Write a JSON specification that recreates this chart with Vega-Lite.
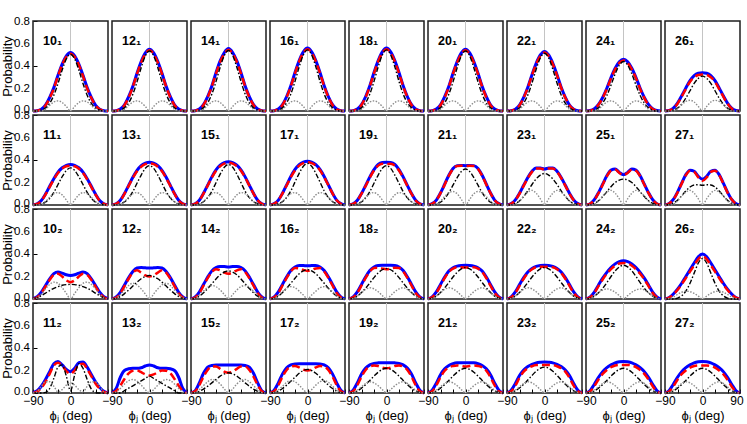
{
"$schema":"https://vega.github.io/schema/vega-lite/v6.json",
"background":"white",
"padding":{"left":1,"top":15,"right":4,"bottom":2},
"bounds":"flush",
"data":{"values":[
{"n":"10₁","x":-90,"b":0,"r":0,"k":0,"g":0},
{"n":"10₁","x":-80,"b":0.003,"r":0.003,"k":0,"g":0},
{"n":"10₁","x":-70,"b":0.016,"r":0.015,"k":0.008,"g":0},
{"n":"10₁","x":-60,"b":0.052,"r":0.05,"k":0.026,"g":0.015},
{"n":"10₁","x":-50,"b":0.12,"r":0.115,"k":0.068,"g":0.05},
{"n":"10₁","x":-40,"b":0.208,"r":0.2,"k":0.14,"g":0.08},
{"n":"10₁","x":-30,"b":0.317,"r":0.31,"k":0.244,"g":0.09},
{"n":"10₁","x":-20,"b":0.416,"r":0.41,"k":0.364,"g":0.075},
{"n":"10₁","x":-10,"b":0.49,"r":0.48,"k":0.463,"g":0.04},
{"n":"10₁","x":0,"b":0.52,"r":0.51,"k":0.505,"g":0},
{"n":"10₁","x":10,"b":0.49,"r":0.48,"k":0.463,"g":0.04},
{"n":"10₁","x":20,"b":0.416,"r":0.41,"k":0.364,"g":0.075},
{"n":"10₁","x":30,"b":0.317,"r":0.31,"k":0.244,"g":0.09},
{"n":"10₁","x":40,"b":0.208,"r":0.2,"k":0.14,"g":0.08},
{"n":"10₁","x":50,"b":0.12,"r":0.115,"k":0.068,"g":0.05},
{"n":"10₁","x":60,"b":0.052,"r":0.05,"k":0.026,"g":0.015},
{"n":"10₁","x":70,"b":0.016,"r":0.015,"k":0.008,"g":0},
{"n":"10₁","x":80,"b":0.003,"r":0.003,"k":0,"g":0},
{"n":"10₁","x":90,"b":0,"r":0,"k":0,"g":0},
{"n":"12₁","x":-90,"b":0,"r":0,"k":0,"g":0},
{"n":"12₁","x":-80,"b":0.003,"r":0.003,"k":0,"g":0},
{"n":"12₁","x":-70,"b":0.017,"r":0.016,"k":0.008,"g":0},
{"n":"12₁","x":-60,"b":0.055,"r":0.052,"k":0.028,"g":0.015},
{"n":"12₁","x":-50,"b":0.127,"r":0.12,"k":0.072,"g":0.05},
{"n":"12₁","x":-40,"b":0.22,"r":0.215,"k":0.149,"g":0.08},
{"n":"12₁","x":-30,"b":0.336,"r":0.33,"k":0.259,"g":0.09},
{"n":"12₁","x":-20,"b":0.44,"r":0.43,"k":0.385,"g":0.075},
{"n":"12₁","x":-10,"b":0.517,"r":0.507,"k":0.49,"g":0.04},
{"n":"12₁","x":0,"b":0.55,"r":0.54,"k":0.534,"g":0},
{"n":"12₁","x":10,"b":0.517,"r":0.507,"k":0.49,"g":0.04},
{"n":"12₁","x":20,"b":0.44,"r":0.43,"k":0.385,"g":0.075},
{"n":"12₁","x":30,"b":0.336,"r":0.33,"k":0.259,"g":0.09},
{"n":"12₁","x":40,"b":0.22,"r":0.215,"k":0.149,"g":0.08},
{"n":"12₁","x":50,"b":0.127,"r":0.12,"k":0.072,"g":0.05},
{"n":"12₁","x":60,"b":0.055,"r":0.052,"k":0.028,"g":0.015},
{"n":"12₁","x":70,"b":0.017,"r":0.016,"k":0.008,"g":0},
{"n":"12₁","x":80,"b":0.003,"r":0.003,"k":0,"g":0},
{"n":"12₁","x":90,"b":0,"r":0,"k":0,"g":0},
{"n":"14₁","x":-90,"b":0,"r":0,"k":0,"g":0},
{"n":"14₁","x":-80,"b":0.003,"r":0.003,"k":0,"g":0},
{"n":"14₁","x":-70,"b":0.017,"r":0.016,"k":0.008,"g":0},
{"n":"14₁","x":-60,"b":0.056,"r":0.053,"k":0.028,"g":0.015},
{"n":"14₁","x":-50,"b":0.128,"r":0.123,"k":0.072,"g":0.05},
{"n":"14₁","x":-40,"b":0.222,"r":0.217,"k":0.15,"g":0.08},
{"n":"14₁","x":-30,"b":0.34,"r":0.333,"k":0.261,"g":0.09},
{"n":"14₁","x":-20,"b":0.445,"r":0.435,"k":0.389,"g":0.075},
{"n":"14₁","x":-10,"b":0.52,"r":0.51,"k":0.494,"g":0.04},
{"n":"14₁","x":0,"b":0.555,"r":0.545,"k":0.538,"g":0},
{"n":"14₁","x":10,"b":0.52,"r":0.51,"k":0.494,"g":0.04},
{"n":"14₁","x":20,"b":0.445,"r":0.435,"k":0.389,"g":0.075},
{"n":"14₁","x":30,"b":0.34,"r":0.333,"k":0.261,"g":0.09},
{"n":"14₁","x":40,"b":0.222,"r":0.217,"k":0.15,"g":0.08},
{"n":"14₁","x":50,"b":0.128,"r":0.123,"k":0.072,"g":0.05},
{"n":"14₁","x":60,"b":0.056,"r":0.053,"k":0.028,"g":0.015},
{"n":"14₁","x":70,"b":0.017,"r":0.016,"k":0.008,"g":0},
{"n":"14₁","x":80,"b":0.003,"r":0.003,"k":0,"g":0},
{"n":"14₁","x":90,"b":0,"r":0,"k":0,"g":0},
{"n":"16₁","x":-90,"b":0,"r":0,"k":0,"g":0},
{"n":"16₁","x":-80,"b":0.003,"r":0.003,"k":0,"g":0},
{"n":"16₁","x":-70,"b":0.017,"r":0.016,"k":0.008,"g":0},
{"n":"16₁","x":-60,"b":0.056,"r":0.054,"k":0.028,"g":0.015},
{"n":"16₁","x":-50,"b":0.129,"r":0.124,"k":0.073,"g":0.05},
{"n":"16₁","x":-40,"b":0.224,"r":0.219,"k":0.151,"g":0.08},
{"n":"16₁","x":-30,"b":0.342,"r":0.335,"k":0.263,"g":0.09},
{"n":"16₁","x":-20,"b":0.448,"r":0.44,"k":0.392,"g":0.075},
{"n":"16₁","x":-10,"b":0.526,"r":0.516,"k":0.498,"g":0.04},
{"n":"16₁","x":0,"b":0.56,"r":0.55,"k":0.543,"g":0},
{"n":"16₁","x":10,"b":0.526,"r":0.516,"k":0.498,"g":0.04},
{"n":"16₁","x":20,"b":0.448,"r":0.44,"k":0.392,"g":0.075},
{"n":"16₁","x":30,"b":0.342,"r":0.335,"k":0.263,"g":0.09},
{"n":"16₁","x":40,"b":0.224,"r":0.219,"k":0.151,"g":0.08},
{"n":"16₁","x":50,"b":0.129,"r":0.124,"k":0.073,"g":0.05},
{"n":"16₁","x":60,"b":0.056,"r":0.054,"k":0.028,"g":0.015},
{"n":"16₁","x":70,"b":0.017,"r":0.016,"k":0.008,"g":0},
{"n":"16₁","x":80,"b":0.003,"r":0.003,"k":0,"g":0},
{"n":"16₁","x":90,"b":0,"r":0,"k":0,"g":0},
{"n":"18₁","x":-90,"b":0,"r":0,"k":0,"g":0},
{"n":"18₁","x":-80,"b":0.003,"r":0.003,"k":0,"g":0},
{"n":"18₁","x":-70,"b":0.017,"r":0.016,"k":0.008,"g":0},
{"n":"18₁","x":-60,"b":0.056,"r":0.054,"k":0.028,"g":0.015},
{"n":"18₁","x":-50,"b":0.129,"r":0.124,"k":0.073,"g":0.05},
{"n":"18₁","x":-40,"b":0.224,"r":0.219,"k":0.151,"g":0.08},
{"n":"18₁","x":-30,"b":0.342,"r":0.335,"k":0.263,"g":0.09},
{"n":"18₁","x":-20,"b":0.448,"r":0.44,"k":0.392,"g":0.075},
{"n":"18₁","x":-10,"b":0.526,"r":0.516,"k":0.498,"g":0.04},
{"n":"18₁","x":0,"b":0.56,"r":0.55,"k":0.543,"g":0},
{"n":"18₁","x":10,"b":0.526,"r":0.516,"k":0.498,"g":0.04},
{"n":"18₁","x":20,"b":0.448,"r":0.44,"k":0.392,"g":0.075},
{"n":"18₁","x":30,"b":0.342,"r":0.335,"k":0.263,"g":0.09},
{"n":"18₁","x":40,"b":0.224,"r":0.219,"k":0.151,"g":0.08},
{"n":"18₁","x":50,"b":0.129,"r":0.124,"k":0.073,"g":0.05},
{"n":"18₁","x":60,"b":0.056,"r":0.054,"k":0.028,"g":0.015},
{"n":"18₁","x":70,"b":0.017,"r":0.016,"k":0.008,"g":0},
{"n":"18₁","x":80,"b":0.003,"r":0.003,"k":0,"g":0},
{"n":"18₁","x":90,"b":0,"r":0,"k":0,"g":0},
{"n":"20₁","x":-90,"b":0,"r":0,"k":0,"g":0},
{"n":"20₁","x":-80,"b":0.003,"r":0.003,"k":0,"g":0},
{"n":"20₁","x":-70,"b":0.017,"r":0.016,"k":0.008,"g":0},
{"n":"20₁","x":-60,"b":0.055,"r":0.052,"k":0.028,"g":0.015},
{"n":"20₁","x":-50,"b":0.127,"r":0.12,"k":0.072,"g":0.05},
{"n":"20₁","x":-40,"b":0.22,"r":0.215,"k":0.149,"g":0.08},
{"n":"20₁","x":-30,"b":0.336,"r":0.33,"k":0.259,"g":0.09},
{"n":"20₁","x":-20,"b":0.44,"r":0.43,"k":0.385,"g":0.075},
{"n":"20₁","x":-10,"b":0.517,"r":0.507,"k":0.49,"g":0.04},
{"n":"20₁","x":0,"b":0.55,"r":0.54,"k":0.534,"g":0},
{"n":"20₁","x":10,"b":0.517,"r":0.507,"k":0.49,"g":0.04},
{"n":"20₁","x":20,"b":0.44,"r":0.43,"k":0.385,"g":0.075},
{"n":"20₁","x":30,"b":0.336,"r":0.33,"k":0.259,"g":0.09},
{"n":"20₁","x":40,"b":0.22,"r":0.215,"k":0.149,"g":0.08},
{"n":"20₁","x":50,"b":0.127,"r":0.12,"k":0.072,"g":0.05},
{"n":"20₁","x":60,"b":0.055,"r":0.052,"k":0.028,"g":0.015},
{"n":"20₁","x":70,"b":0.017,"r":0.016,"k":0.008,"g":0},
{"n":"20₁","x":80,"b":0.003,"r":0.003,"k":0,"g":0},
{"n":"20₁","x":90,"b":0,"r":0,"k":0,"g":0},
{"n":"22₁","x":-90,"b":0,"r":0,"k":0,"g":0},
{"n":"22₁","x":-80,"b":0.003,"r":0.003,"k":0,"g":0},
{"n":"22₁","x":-70,"b":0.016,"r":0.015,"k":0.008,"g":0},
{"n":"22₁","x":-60,"b":0.053,"r":0.05,"k":0.027,"g":0.015},
{"n":"22₁","x":-50,"b":0.122,"r":0.117,"k":0.069,"g":0.05},
{"n":"22₁","x":-40,"b":0.212,"r":0.207,"k":0.143,"g":0.08},
{"n":"22₁","x":-30,"b":0.323,"r":0.317,"k":0.249,"g":0.09},
{"n":"22₁","x":-20,"b":0.424,"r":0.416,"k":0.371,"g":0.075},
{"n":"22₁","x":-10,"b":0.498,"r":0.488,"k":0.472,"g":0.04},
{"n":"22₁","x":0,"b":0.53,"r":0.52,"k":0.514,"g":0},
{"n":"22₁","x":10,"b":0.498,"r":0.488,"k":0.472,"g":0.04},
{"n":"22₁","x":20,"b":0.424,"r":0.416,"k":0.371,"g":0.075},
{"n":"22₁","x":30,"b":0.323,"r":0.317,"k":0.249,"g":0.09},
{"n":"22₁","x":40,"b":0.212,"r":0.207,"k":0.143,"g":0.08},
{"n":"22₁","x":50,"b":0.122,"r":0.117,"k":0.069,"g":0.05},
{"n":"22₁","x":60,"b":0.053,"r":0.05,"k":0.027,"g":0.015},
{"n":"22₁","x":70,"b":0.016,"r":0.015,"k":0.008,"g":0},
{"n":"22₁","x":80,"b":0.003,"r":0.003,"k":0,"g":0},
{"n":"22₁","x":90,"b":0,"r":0,"k":0,"g":0},
{"n":"24₁","x":-90,"b":0,"r":0,"k":0,"g":0},
{"n":"24₁","x":-80,"b":0.004,"r":0.003,"k":0,"g":0},
{"n":"24₁","x":-70,"b":0.02,"r":0.018,"k":0.008,"g":0},
{"n":"24₁","x":-60,"b":0.058,"r":0.055,"k":0.028,"g":0.015},
{"n":"24₁","x":-50,"b":0.12,"r":0.115,"k":0.07,"g":0.05},
{"n":"24₁","x":-40,"b":0.202,"r":0.196,"k":0.138,"g":0.08},
{"n":"24₁","x":-30,"b":0.297,"r":0.29,"k":0.23,"g":0.09},
{"n":"24₁","x":-20,"b":0.38,"r":0.37,"k":0.33,"g":0.075},
{"n":"24₁","x":-10,"b":0.437,"r":0.427,"k":0.408,"g":0.04},
{"n":"24₁","x":0,"b":0.46,"r":0.45,"k":0.44,"g":0},
{"n":"24₁","x":10,"b":0.437,"r":0.427,"k":0.408,"g":0.04},
{"n":"24₁","x":20,"b":0.38,"r":0.37,"k":0.33,"g":0.075},
{"n":"24₁","x":30,"b":0.297,"r":0.29,"k":0.23,"g":0.09},
{"n":"24₁","x":40,"b":0.202,"r":0.196,"k":0.138,"g":0.08},
{"n":"24₁","x":50,"b":0.12,"r":0.115,"k":0.07,"g":0.05},
{"n":"24₁","x":60,"b":0.058,"r":0.055,"k":0.028,"g":0.015},
{"n":"24₁","x":70,"b":0.02,"r":0.018,"k":0.008,"g":0},
{"n":"24₁","x":80,"b":0.004,"r":0.003,"k":0,"g":0},
{"n":"24₁","x":90,"b":0,"r":0,"k":0,"g":0},
{"n":"26₁","x":-90,"b":0,"r":0,"k":0,"g":0},
{"n":"26₁","x":-80,"b":0.005,"r":0.004,"k":0,"g":0},
{"n":"26₁","x":-70,"b":0.025,"r":0.022,"k":0.008,"g":0},
{"n":"26₁","x":-60,"b":0.07,"r":0.065,"k":0.025,"g":0.02},
{"n":"26₁","x":-50,"b":0.135,"r":0.127,"k":0.06,"g":0.055},
{"n":"26₁","x":-40,"b":0.205,"r":0.195,"k":0.115,"g":0.085},
{"n":"26₁","x":-30,"b":0.27,"r":0.26,"k":0.18,"g":0.095},
{"n":"26₁","x":-20,"b":0.315,"r":0.3,"k":0.245,"g":0.08},
{"n":"26₁","x":-10,"b":0.335,"r":0.32,"k":0.29,"g":0.04},
{"n":"26₁","x":0,"b":0.34,"r":0.325,"k":0.31,"g":0},
{"n":"26₁","x":10,"b":0.335,"r":0.32,"k":0.29,"g":0.04},
{"n":"26₁","x":20,"b":0.315,"r":0.3,"k":0.245,"g":0.08},
{"n":"26₁","x":30,"b":0.27,"r":0.26,"k":0.18,"g":0.095},
{"n":"26₁","x":40,"b":0.205,"r":0.195,"k":0.115,"g":0.085},
{"n":"26₁","x":50,"b":0.135,"r":0.127,"k":0.06,"g":0.055},
{"n":"26₁","x":60,"b":0.07,"r":0.065,"k":0.025,"g":0.02},
{"n":"26₁","x":70,"b":0.025,"r":0.022,"k":0.008,"g":0},
{"n":"26₁","x":80,"b":0.005,"r":0.004,"k":0,"g":0},
{"n":"26₁","x":90,"b":0,"r":0,"k":0,"g":0},
{"n":"11₁","x":-90,"b":0,"r":0,"k":0,"g":0},
{"n":"11₁","x":-80,"b":0.011,"r":0.01,"k":0.002,"g":0},
{"n":"11₁","x":-70,"b":0.04,"r":0.037,"k":0.01,"g":0.005},
{"n":"11₁","x":-60,"b":0.097,"r":0.093,"k":0.026,"g":0.03},
{"n":"11₁","x":-50,"b":0.166,"r":0.16,"k":0.059,"g":0.07},
{"n":"11₁","x":-40,"b":0.234,"r":0.228,"k":0.112,"g":0.1},
{"n":"11₁","x":-30,"b":0.292,"r":0.284,"k":0.182,"g":0.11},
{"n":"11₁","x":-20,"b":0.331,"r":0.323,"k":0.251,"g":0.09},
{"n":"11₁","x":-10,"b":0.353,"r":0.344,"k":0.307,"g":0.045},
{"n":"11₁","x":0,"b":0.36,"r":0.35,"k":0.33,"g":0},
{"n":"11₁","x":10,"b":0.353,"r":0.344,"k":0.307,"g":0.045},
{"n":"11₁","x":20,"b":0.331,"r":0.323,"k":0.251,"g":0.09},
{"n":"11₁","x":30,"b":0.292,"r":0.284,"k":0.182,"g":0.11},
{"n":"11₁","x":40,"b":0.234,"r":0.228,"k":0.112,"g":0.1},
{"n":"11₁","x":50,"b":0.166,"r":0.16,"k":0.059,"g":0.07},
{"n":"11₁","x":60,"b":0.097,"r":0.093,"k":0.026,"g":0.03},
{"n":"11₁","x":70,"b":0.04,"r":0.037,"k":0.01,"g":0.005},
{"n":"11₁","x":80,"b":0.011,"r":0.01,"k":0.002,"g":0},
{"n":"11₁","x":90,"b":0,"r":0,"k":0,"g":0},
{"n":"13₁","x":-90,"b":0,"r":0,"k":0,"g":0},
{"n":"13₁","x":-80,"b":0.011,"r":0.011,"k":0.002,"g":0},
{"n":"13₁","x":-70,"b":0.042,"r":0.04,"k":0.01,"g":0.005},
{"n":"13₁","x":-60,"b":0.103,"r":0.1,"k":0.028,"g":0.03},
{"n":"13₁","x":-50,"b":0.175,"r":0.17,"k":0.063,"g":0.07},
{"n":"13₁","x":-40,"b":0.247,"r":0.24,"k":0.119,"g":0.1},
{"n":"13₁","x":-30,"b":0.308,"r":0.3,"k":0.193,"g":0.11},
{"n":"13₁","x":-20,"b":0.35,"r":0.34,"k":0.266,"g":0.09},
{"n":"13₁","x":-10,"b":0.372,"r":0.363,"k":0.326,"g":0.045},
{"n":"13₁","x":0,"b":0.38,"r":0.37,"k":0.35,"g":0},
{"n":"13₁","x":10,"b":0.372,"r":0.363,"k":0.326,"g":0.045},
{"n":"13₁","x":20,"b":0.35,"r":0.34,"k":0.266,"g":0.09},
{"n":"13₁","x":30,"b":0.308,"r":0.3,"k":0.193,"g":0.11},
{"n":"13₁","x":40,"b":0.247,"r":0.24,"k":0.119,"g":0.1},
{"n":"13₁","x":50,"b":0.175,"r":0.17,"k":0.063,"g":0.07},
{"n":"13₁","x":60,"b":0.103,"r":0.1,"k":0.028,"g":0.03},
{"n":"13₁","x":70,"b":0.042,"r":0.04,"k":0.01,"g":0.005},
{"n":"13₁","x":80,"b":0.011,"r":0.011,"k":0.002,"g":0},
{"n":"13₁","x":90,"b":0,"r":0,"k":0,"g":0},
{"n":"15₁","x":-90,"b":0,"r":0,"k":0,"g":0},
{"n":"15₁","x":-80,"b":0.011,"r":0.011,"k":0.002,"g":0},
{"n":"15₁","x":-70,"b":0.042,"r":0.041,"k":0.011,"g":0.005},
{"n":"15₁","x":-60,"b":0.104,"r":0.101,"k":0.029,"g":0.03},
{"n":"15₁","x":-50,"b":0.177,"r":0.172,"k":0.065,"g":0.07},
{"n":"15₁","x":-40,"b":0.25,"r":0.243,"k":0.122,"g":0.1},
{"n":"15₁","x":-30,"b":0.312,"r":0.304,"k":0.198,"g":0.11},
{"n":"15₁","x":-20,"b":0.354,"r":0.345,"k":0.274,"g":0.09},
{"n":"15₁","x":-10,"b":0.377,"r":0.367,"k":0.335,"g":0.045},
{"n":"15₁","x":0,"b":0.385,"r":0.375,"k":0.36,"g":0},
{"n":"15₁","x":10,"b":0.377,"r":0.367,"k":0.335,"g":0.045},
{"n":"15₁","x":20,"b":0.354,"r":0.345,"k":0.274,"g":0.09},
{"n":"15₁","x":30,"b":0.312,"r":0.304,"k":0.198,"g":0.11},
{"n":"15₁","x":40,"b":0.25,"r":0.243,"k":0.122,"g":0.1},
{"n":"15₁","x":50,"b":0.177,"r":0.172,"k":0.065,"g":0.07},
{"n":"15₁","x":60,"b":0.104,"r":0.101,"k":0.029,"g":0.03},
{"n":"15₁","x":70,"b":0.042,"r":0.041,"k":0.011,"g":0.005},
{"n":"15₁","x":80,"b":0.011,"r":0.011,"k":0.002,"g":0},
{"n":"15₁","x":90,"b":0,"r":0,"k":0,"g":0},
{"n":"17₁","x":-90,"b":0,"r":0,"k":0,"g":0},
{"n":"17₁","x":-80,"b":0.012,"r":0.011,"k":0.002,"g":0},
{"n":"17₁","x":-70,"b":0.043,"r":0.042,"k":0.011,"g":0.005},
{"n":"17₁","x":-60,"b":0.105,"r":0.103,"k":0.03,"g":0.03},
{"n":"17₁","x":-50,"b":0.179,"r":0.175,"k":0.067,"g":0.07},
{"n":"17₁","x":-40,"b":0.254,"r":0.247,"k":0.126,"g":0.1},
{"n":"17₁","x":-30,"b":0.316,"r":0.308,"k":0.204,"g":0.11},
{"n":"17₁","x":-20,"b":0.359,"r":0.35,"k":0.281,"g":0.09},
{"n":"17₁","x":-10,"b":0.382,"r":0.372,"k":0.344,"g":0.045},
{"n":"17₁","x":0,"b":0.39,"r":0.38,"k":0.37,"g":0},
{"n":"17₁","x":10,"b":0.382,"r":0.372,"k":0.344,"g":0.045},
{"n":"17₁","x":20,"b":0.359,"r":0.35,"k":0.281,"g":0.09},
{"n":"17₁","x":30,"b":0.316,"r":0.308,"k":0.204,"g":0.11},
{"n":"17₁","x":40,"b":0.254,"r":0.247,"k":0.126,"g":0.1},
{"n":"17₁","x":50,"b":0.179,"r":0.175,"k":0.067,"g":0.07},
{"n":"17₁","x":60,"b":0.105,"r":0.103,"k":0.03,"g":0.03},
{"n":"17₁","x":70,"b":0.043,"r":0.042,"k":0.011,"g":0.005},
{"n":"17₁","x":80,"b":0.012,"r":0.011,"k":0.002,"g":0},
{"n":"17₁","x":90,"b":0,"r":0,"k":0,"g":0},
{"n":"19₁","x":-90,"b":0,"r":0,"k":0,"g":0},
{"n":"19₁","x":-80,"b":0.011,"r":0.01,"k":0.002,"g":0},
{"n":"19₁","x":-70,"b":0.042,"r":0.04,"k":0.01,"g":0.005},
{"n":"19₁","x":-60,"b":0.103,"r":0.1,"k":0.028,"g":0.03},
{"n":"19₁","x":-50,"b":0.175,"r":0.17,"k":0.063,"g":0.07},
{"n":"19₁","x":-40,"b":0.25,"r":0.243,"k":0.119,"g":0.1},
{"n":"19₁","x":-30,"b":0.315,"r":0.306,"k":0.193,"g":0.11},
{"n":"19₁","x":-20,"b":0.36,"r":0.35,"k":0.266,"g":0.09},
{"n":"19₁","x":-10,"b":0.377,"r":0.366,"k":0.326,"g":0.045},
{"n":"19₁","x":0,"b":0.38,"r":0.365,"k":0.35,"g":0},
{"n":"19₁","x":10,"b":0.377,"r":0.366,"k":0.326,"g":0.045},
{"n":"19₁","x":20,"b":0.36,"r":0.35,"k":0.266,"g":0.09},
{"n":"19₁","x":30,"b":0.315,"r":0.306,"k":0.193,"g":0.11},
{"n":"19₁","x":40,"b":0.25,"r":0.243,"k":0.119,"g":0.1},
{"n":"19₁","x":50,"b":0.175,"r":0.17,"k":0.063,"g":0.07},
{"n":"19₁","x":60,"b":0.103,"r":0.1,"k":0.028,"g":0.03},
{"n":"19₁","x":70,"b":0.042,"r":0.04,"k":0.01,"g":0.005},
{"n":"19₁","x":80,"b":0.011,"r":0.01,"k":0.002,"g":0},
{"n":"19₁","x":90,"b":0,"r":0,"k":0,"g":0},
{"n":"21₁","x":-90,"b":0,"r":0,"k":0,"g":0},
{"n":"21₁","x":-80,"b":0.012,"r":0.011,"k":0.002,"g":0},
{"n":"21₁","x":-70,"b":0.044,"r":0.042,"k":0.01,"g":0.005},
{"n":"21₁","x":-60,"b":0.108,"r":0.105,"k":0.026,"g":0.035},
{"n":"21₁","x":-50,"b":0.185,"r":0.18,"k":0.058,"g":0.075},
{"n":"21₁","x":-40,"b":0.265,"r":0.26,"k":0.109,"g":0.11},
{"n":"21₁","x":-30,"b":0.325,"r":0.32,"k":0.176,"g":0.12},
{"n":"21₁","x":-20,"b":0.35,"r":0.347,"k":0.243,"g":0.1},
{"n":"21₁","x":-10,"b":0.352,"r":0.35,"k":0.298,"g":0.05},
{"n":"21₁","x":0,"b":0.35,"r":0.345,"k":0.32,"g":0},
{"n":"21₁","x":10,"b":0.352,"r":0.35,"k":0.298,"g":0.05},
{"n":"21₁","x":20,"b":0.35,"r":0.347,"k":0.243,"g":0.1},
{"n":"21₁","x":30,"b":0.325,"r":0.32,"k":0.176,"g":0.12},
{"n":"21₁","x":40,"b":0.265,"r":0.26,"k":0.109,"g":0.11},
{"n":"21₁","x":50,"b":0.185,"r":0.18,"k":0.058,"g":0.075},
{"n":"21₁","x":60,"b":0.108,"r":0.105,"k":0.026,"g":0.035},
{"n":"21₁","x":70,"b":0.044,"r":0.042,"k":0.01,"g":0.005},
{"n":"21₁","x":80,"b":0.012,"r":0.011,"k":0.002,"g":0},
{"n":"21₁","x":90,"b":0,"r":0,"k":0,"g":0},
{"n":"23₁","x":-90,"b":0,"r":0,"k":0,"g":0},
{"n":"23₁","x":-80,"b":0.012,"r":0.011,"k":0.003,"g":0},
{"n":"23₁","x":-70,"b":0.045,"r":0.043,"k":0.014,"g":0.005},
{"n":"23₁","x":-60,"b":0.105,"r":0.1,"k":0.036,"g":0.035},
{"n":"23₁","x":-50,"b":0.175,"r":0.17,"k":0.076,"g":0.08},
{"n":"23₁","x":-40,"b":0.245,"r":0.24,"k":0.126,"g":0.115},
{"n":"23₁","x":-30,"b":0.3,"r":0.295,"k":0.182,"g":0.13},
{"n":"23₁","x":-20,"b":0.33,"r":0.325,"k":0.232,"g":0.105},
{"n":"23₁","x":-10,"b":0.328,"r":0.325,"k":0.266,"g":0.055},
{"n":"23₁","x":0,"b":0.32,"r":0.315,"k":0.28,"g":0},
{"n":"23₁","x":10,"b":0.328,"r":0.325,"k":0.266,"g":0.055},
{"n":"23₁","x":20,"b":0.33,"r":0.325,"k":0.232,"g":0.105},
{"n":"23₁","x":30,"b":0.3,"r":0.295,"k":0.182,"g":0.13},
{"n":"23₁","x":40,"b":0.245,"r":0.24,"k":0.126,"g":0.115},
{"n":"23₁","x":50,"b":0.175,"r":0.17,"k":0.076,"g":0.08},
{"n":"23₁","x":60,"b":0.105,"r":0.1,"k":0.036,"g":0.035},
{"n":"23₁","x":70,"b":0.045,"r":0.043,"k":0.014,"g":0.005},
{"n":"23₁","x":80,"b":0.012,"r":0.011,"k":0.003,"g":0},
{"n":"23₁","x":90,"b":0,"r":0,"k":0,"g":0},
{"n":"25₁","x":-90,"b":0,"r":0,"k":0,"g":0},
{"n":"25₁","x":-80,"b":0.012,"r":0.011,"k":0.003,"g":0},
{"n":"25₁","x":-70,"b":0.047,"r":0.045,"k":0.015,"g":0.005},
{"n":"25₁","x":-60,"b":0.11,"r":0.105,"k":0.038,"g":0.035},
{"n":"25₁","x":-50,"b":0.185,"r":0.18,"k":0.075,"g":0.08},
{"n":"25₁","x":-40,"b":0.26,"r":0.255,"k":0.118,"g":0.115},
{"n":"25₁","x":-30,"b":0.31,"r":0.305,"k":0.163,"g":0.13},
{"n":"25₁","x":-20,"b":0.32,"r":0.315,"k":0.2,"g":0.105},
{"n":"25₁","x":-10,"b":0.29,"r":0.285,"k":0.222,"g":0.055},
{"n":"25₁","x":0,"b":0.27,"r":0.265,"k":0.23,"g":0},
{"n":"25₁","x":10,"b":0.29,"r":0.285,"k":0.222,"g":0.055},
{"n":"25₁","x":20,"b":0.32,"r":0.315,"k":0.2,"g":0.105},
{"n":"25₁","x":30,"b":0.31,"r":0.305,"k":0.163,"g":0.13},
{"n":"25₁","x":40,"b":0.26,"r":0.255,"k":0.118,"g":0.115},
{"n":"25₁","x":50,"b":0.185,"r":0.18,"k":0.075,"g":0.08},
{"n":"25₁","x":60,"b":0.11,"r":0.105,"k":0.038,"g":0.035},
{"n":"25₁","x":70,"b":0.047,"r":0.045,"k":0.015,"g":0.005},
{"n":"25₁","x":80,"b":0.012,"r":0.011,"k":0.003,"g":0},
{"n":"25₁","x":90,"b":0,"r":0,"k":0,"g":0},
{"n":"27₁","x":-90,"b":0,"r":0,"k":0,"g":0},
{"n":"27₁","x":-80,"b":0.013,"r":0.012,"k":0.004,"g":0},
{"n":"27₁","x":-70,"b":0.05,"r":0.048,"k":0.017,"g":0.005},
{"n":"27₁","x":-60,"b":0.115,"r":0.11,"k":0.043,"g":0.035},
{"n":"27₁","x":-50,"b":0.195,"r":0.19,"k":0.082,"g":0.08},
{"n":"27₁","x":-40,"b":0.27,"r":0.265,"k":0.125,"g":0.115},
{"n":"27₁","x":-30,"b":0.31,"r":0.305,"k":0.16,"g":0.13},
{"n":"27₁","x":-20,"b":0.3,"r":0.295,"k":0.178,"g":0.105},
{"n":"27₁","x":-10,"b":0.255,"r":0.245,"k":0.18,"g":0.055},
{"n":"27₁","x":0,"b":0.23,"r":0.215,"k":0.175,"g":0},
{"n":"27₁","x":10,"b":0.255,"r":0.245,"k":0.18,"g":0.055},
{"n":"27₁","x":20,"b":0.3,"r":0.295,"k":0.178,"g":0.105},
{"n":"27₁","x":30,"b":0.31,"r":0.305,"k":0.16,"g":0.13},
{"n":"27₁","x":40,"b":0.27,"r":0.265,"k":0.125,"g":0.115},
{"n":"27₁","x":50,"b":0.195,"r":0.19,"k":0.082,"g":0.08},
{"n":"27₁","x":60,"b":0.115,"r":0.11,"k":0.043,"g":0.035},
{"n":"27₁","x":70,"b":0.05,"r":0.048,"k":0.017,"g":0.005},
{"n":"27₁","x":80,"b":0.013,"r":0.012,"k":0.004,"g":0},
{"n":"27₁","x":90,"b":0,"r":0,"k":0,"g":0},
{"n":"10₂","x":-90,"b":0.003,"r":0,"k":0.002,"g":0},
{"n":"10₂","x":-80,"b":0.02,"r":0.015,"k":0.012,"g":0.01},
{"n":"10₂","x":-70,"b":0.06,"r":0.05,"k":0.03,"g":0.045},
{"n":"10₂","x":-60,"b":0.12,"r":0.11,"k":0.052,"g":0.09},
{"n":"10₂","x":-50,"b":0.18,"r":0.17,"k":0.075,"g":0.13},
{"n":"10₂","x":-40,"b":0.225,"r":0.215,"k":0.095,"g":0.15},
{"n":"10₂","x":-30,"b":0.24,"r":0.225,"k":0.11,"g":0.14},
{"n":"10₂","x":-20,"b":0.23,"r":0.2,"k":0.122,"g":0.1},
{"n":"10₂","x":-10,"b":0.215,"r":0.165,"k":0.128,"g":0.05},
{"n":"10₂","x":0,"b":0.21,"r":0.15,"k":0.13,"g":0},
{"n":"10₂","x":10,"b":0.215,"r":0.165,"k":0.128,"g":0.05},
{"n":"10₂","x":20,"b":0.23,"r":0.2,"k":0.122,"g":0.1},
{"n":"10₂","x":30,"b":0.24,"r":0.225,"k":0.11,"g":0.14},
{"n":"10₂","x":40,"b":0.225,"r":0.215,"k":0.095,"g":0.15},
{"n":"10₂","x":50,"b":0.18,"r":0.17,"k":0.075,"g":0.13},
{"n":"10₂","x":60,"b":0.12,"r":0.11,"k":0.052,"g":0.09},
{"n":"10₂","x":70,"b":0.06,"r":0.05,"k":0.03,"g":0.045},
{"n":"10₂","x":80,"b":0.02,"r":0.015,"k":0.012,"g":0.01},
{"n":"10₂","x":90,"b":0.003,"r":0,"k":0.002,"g":0},
{"n":"12₂","x":-90,"b":0,"r":0,"k":0,"g":0},
{"n":"12₂","x":-80,"b":0.018,"r":0.013,"k":0.006,"g":0.01},
{"n":"12₂","x":-70,"b":0.06,"r":0.05,"k":0.022,"g":0.04},
{"n":"12₂","x":-60,"b":0.125,"r":0.115,"k":0.048,"g":0.08},
{"n":"12₂","x":-50,"b":0.19,"r":0.18,"k":0.08,"g":0.12},
{"n":"12₂","x":-40,"b":0.245,"r":0.235,"k":0.115,"g":0.14},
{"n":"12₂","x":-30,"b":0.275,"r":0.255,"k":0.15,"g":0.125},
{"n":"12₂","x":-20,"b":0.28,"r":0.235,"k":0.18,"g":0.09},
{"n":"12₂","x":-10,"b":0.277,"r":0.21,"k":0.2,"g":0.045},
{"n":"12₂","x":0,"b":0.275,"r":0.2,"k":0.21,"g":0},
{"n":"12₂","x":10,"b":0.277,"r":0.21,"k":0.2,"g":0.045},
{"n":"12₂","x":20,"b":0.28,"r":0.235,"k":0.18,"g":0.09},
{"n":"12₂","x":30,"b":0.275,"r":0.255,"k":0.15,"g":0.125},
{"n":"12₂","x":40,"b":0.245,"r":0.235,"k":0.115,"g":0.14},
{"n":"12₂","x":50,"b":0.19,"r":0.18,"k":0.08,"g":0.12},
{"n":"12₂","x":60,"b":0.125,"r":0.115,"k":0.048,"g":0.08},
{"n":"12₂","x":70,"b":0.06,"r":0.05,"k":0.022,"g":0.04},
{"n":"12₂","x":80,"b":0.018,"r":0.013,"k":0.006,"g":0.01},
{"n":"12₂","x":90,"b":0,"r":0,"k":0,"g":0},
{"n":"14₂","x":-90,"b":0,"r":0,"k":0,"g":0},
{"n":"14₂","x":-80,"b":0.018,"r":0.014,"k":0.007,"g":0.008},
{"n":"14₂","x":-70,"b":0.062,"r":0.052,"k":0.025,"g":0.035},
{"n":"14₂","x":-60,"b":0.128,"r":0.118,"k":0.055,"g":0.07},
{"n":"14₂","x":-50,"b":0.195,"r":0.185,"k":0.093,"g":0.105},
{"n":"14₂","x":-40,"b":0.25,"r":0.24,"k":0.135,"g":0.12},
{"n":"14₂","x":-30,"b":0.28,"r":0.265,"k":0.178,"g":0.11},
{"n":"14₂","x":-20,"b":0.29,"r":0.255,"k":0.215,"g":0.08},
{"n":"14₂","x":-10,"b":0.288,"r":0.235,"k":0.24,"g":0.04},
{"n":"14₂","x":0,"b":0.285,"r":0.225,"k":0.25,"g":0},
{"n":"14₂","x":10,"b":0.288,"r":0.235,"k":0.24,"g":0.04},
{"n":"14₂","x":20,"b":0.29,"r":0.255,"k":0.215,"g":0.08},
{"n":"14₂","x":30,"b":0.28,"r":0.265,"k":0.178,"g":0.11},
{"n":"14₂","x":40,"b":0.25,"r":0.24,"k":0.135,"g":0.12},
{"n":"14₂","x":50,"b":0.195,"r":0.185,"k":0.093,"g":0.105},
{"n":"14₂","x":60,"b":0.128,"r":0.118,"k":0.055,"g":0.07},
{"n":"14₂","x":70,"b":0.062,"r":0.052,"k":0.025,"g":0.035},
{"n":"14₂","x":80,"b":0.018,"r":0.014,"k":0.007,"g":0.008},
{"n":"14₂","x":90,"b":0,"r":0,"k":0,"g":0},
{"n":"16₂","x":-90,"b":0,"r":0,"k":0,"g":0},
{"n":"16₂","x":-80,"b":0.019,"r":0.015,"k":0.007,"g":0.007},
{"n":"16₂","x":-70,"b":0.063,"r":0.054,"k":0.026,"g":0.03},
{"n":"16₂","x":-60,"b":0.13,"r":0.12,"k":0.057,"g":0.065},
{"n":"16₂","x":-50,"b":0.197,"r":0.188,"k":0.096,"g":0.095},
{"n":"16₂","x":-40,"b":0.253,"r":0.245,"k":0.14,"g":0.11},
{"n":"16₂","x":-30,"b":0.285,"r":0.275,"k":0.185,"g":0.1},
{"n":"16₂","x":-20,"b":0.298,"r":0.272,"k":0.224,"g":0.07},
{"n":"16₂","x":-10,"b":0.297,"r":0.258,"k":0.25,"g":0.035},
{"n":"16₂","x":0,"b":0.295,"r":0.25,"k":0.26,"g":0},
{"n":"16₂","x":10,"b":0.297,"r":0.258,"k":0.25,"g":0.035},
{"n":"16₂","x":20,"b":0.298,"r":0.272,"k":0.224,"g":0.07},
{"n":"16₂","x":30,"b":0.285,"r":0.275,"k":0.185,"g":0.1},
{"n":"16₂","x":40,"b":0.253,"r":0.245,"k":0.14,"g":0.11},
{"n":"16₂","x":50,"b":0.197,"r":0.188,"k":0.096,"g":0.095},
{"n":"16₂","x":60,"b":0.13,"r":0.12,"k":0.057,"g":0.065},
{"n":"16₂","x":70,"b":0.063,"r":0.054,"k":0.026,"g":0.03},
{"n":"16₂","x":80,"b":0.019,"r":0.015,"k":0.007,"g":0.007},
{"n":"16₂","x":90,"b":0,"r":0,"k":0,"g":0},
{"n":"18₂","x":-90,"b":0,"r":0,"k":0,"g":0},
{"n":"18₂","x":-80,"b":0.019,"r":0.015,"k":0.007,"g":0.005},
{"n":"18₂","x":-70,"b":0.063,"r":0.054,"k":0.026,"g":0.025},
{"n":"18₂","x":-60,"b":0.13,"r":0.12,"k":0.057,"g":0.055},
{"n":"18₂","x":-50,"b":0.197,"r":0.188,"k":0.097,"g":0.085},
{"n":"18₂","x":-40,"b":0.253,"r":0.245,"k":0.143,"g":0.1},
{"n":"18₂","x":-30,"b":0.285,"r":0.275,"k":0.19,"g":0.09},
{"n":"18₂","x":-20,"b":0.298,"r":0.278,"k":0.232,"g":0.065},
{"n":"18₂","x":-10,"b":0.3,"r":0.27,"k":0.26,"g":0.03},
{"n":"18₂","x":0,"b":0.3,"r":0.265,"k":0.27,"g":0},
{"n":"18₂","x":10,"b":0.3,"r":0.27,"k":0.26,"g":0.03},
{"n":"18₂","x":20,"b":0.298,"r":0.278,"k":0.232,"g":0.065},
{"n":"18₂","x":30,"b":0.285,"r":0.275,"k":0.19,"g":0.09},
{"n":"18₂","x":40,"b":0.253,"r":0.245,"k":0.143,"g":0.1},
{"n":"18₂","x":50,"b":0.197,"r":0.188,"k":0.097,"g":0.085},
{"n":"18₂","x":60,"b":0.13,"r":0.12,"k":0.057,"g":0.055},
{"n":"18₂","x":70,"b":0.063,"r":0.054,"k":0.026,"g":0.025},
{"n":"18₂","x":80,"b":0.019,"r":0.015,"k":0.007,"g":0.005},
{"n":"18₂","x":90,"b":0,"r":0,"k":0,"g":0},
{"n":"20₂","x":-90,"b":0,"r":0,"k":0,"g":0},
{"n":"20₂","x":-80,"b":0.019,"r":0.015,"k":0.007,"g":0.005},
{"n":"20₂","x":-70,"b":0.063,"r":0.054,"k":0.026,"g":0.025},
{"n":"20₂","x":-60,"b":0.13,"r":0.118,"k":0.058,"g":0.055},
{"n":"20₂","x":-50,"b":0.195,"r":0.185,"k":0.099,"g":0.085},
{"n":"20₂","x":-40,"b":0.248,"r":0.24,"k":0.146,"g":0.1},
{"n":"20₂","x":-30,"b":0.278,"r":0.27,"k":0.195,"g":0.09},
{"n":"20₂","x":-20,"b":0.292,"r":0.283,"k":0.238,"g":0.065},
{"n":"20₂","x":-10,"b":0.298,"r":0.282,"k":0.268,"g":0.03},
{"n":"20₂","x":0,"b":0.3,"r":0.28,"k":0.28,"g":0},
{"n":"20₂","x":10,"b":0.298,"r":0.282,"k":0.268,"g":0.03},
{"n":"20₂","x":20,"b":0.292,"r":0.283,"k":0.238,"g":0.065},
{"n":"20₂","x":30,"b":0.278,"r":0.27,"k":0.195,"g":0.09},
{"n":"20₂","x":40,"b":0.248,"r":0.24,"k":0.146,"g":0.1},
{"n":"20₂","x":50,"b":0.195,"r":0.185,"k":0.099,"g":0.085},
{"n":"20₂","x":60,"b":0.13,"r":0.118,"k":0.058,"g":0.055},
{"n":"20₂","x":70,"b":0.063,"r":0.054,"k":0.026,"g":0.025},
{"n":"20₂","x":80,"b":0.019,"r":0.015,"k":0.007,"g":0.005},
{"n":"20₂","x":90,"b":0,"r":0,"k":0,"g":0},
{"n":"22₂","x":-90,"b":0,"r":0,"k":0,"g":0},
{"n":"22₂","x":-80,"b":0.019,"r":0.015,"k":0.007,"g":0.005},
{"n":"22₂","x":-70,"b":0.063,"r":0.054,"k":0.026,"g":0.025},
{"n":"22₂","x":-60,"b":0.128,"r":0.117,"k":0.058,"g":0.055},
{"n":"22₂","x":-50,"b":0.19,"r":0.18,"k":0.099,"g":0.085},
{"n":"22₂","x":-40,"b":0.24,"r":0.232,"k":0.146,"g":0.1},
{"n":"22₂","x":-30,"b":0.272,"r":0.265,"k":0.195,"g":0.09},
{"n":"22₂","x":-20,"b":0.29,"r":0.283,"k":0.238,"g":0.065},
{"n":"22₂","x":-10,"b":0.298,"r":0.287,"k":0.268,"g":0.03},
{"n":"22₂","x":0,"b":0.3,"r":0.285,"k":0.28,"g":0},
{"n":"22₂","x":10,"b":0.298,"r":0.287,"k":0.268,"g":0.03},
{"n":"22₂","x":20,"b":0.29,"r":0.283,"k":0.238,"g":0.065},
{"n":"22₂","x":30,"b":0.272,"r":0.265,"k":0.195,"g":0.09},
{"n":"22₂","x":40,"b":0.24,"r":0.232,"k":0.146,"g":0.1},
{"n":"22₂","x":50,"b":0.19,"r":0.18,"k":0.099,"g":0.085},
{"n":"22₂","x":60,"b":0.128,"r":0.117,"k":0.058,"g":0.055},
{"n":"22₂","x":70,"b":0.063,"r":0.054,"k":0.026,"g":0.025},
{"n":"22₂","x":80,"b":0.019,"r":0.015,"k":0.007,"g":0.005},
{"n":"22₂","x":90,"b":0,"r":0,"k":0,"g":0},
{"n":"24₂","x":-90,"b":0,"r":0,"k":0,"g":0},
{"n":"24₂","x":-80,"b":0.019,"r":0.015,"k":0.007,"g":0.006},
{"n":"24₂","x":-70,"b":0.062,"r":0.054,"k":0.025,"g":0.025},
{"n":"24₂","x":-60,"b":0.125,"r":0.115,"k":0.055,"g":0.055},
{"n":"24₂","x":-50,"b":0.185,"r":0.174,"k":0.095,"g":0.08},
{"n":"24₂","x":-40,"b":0.237,"r":0.224,"k":0.145,"g":0.09},
{"n":"24₂","x":-30,"b":0.28,"r":0.265,"k":0.2,"g":0.08},
{"n":"24₂","x":-20,"b":0.312,"r":0.296,"k":0.25,"g":0.06},
{"n":"24₂","x":-10,"b":0.333,"r":0.315,"k":0.285,"g":0.03},
{"n":"24₂","x":0,"b":0.34,"r":0.32,"k":0.3,"g":0},
{"n":"24₂","x":10,"b":0.333,"r":0.315,"k":0.285,"g":0.03},
{"n":"24₂","x":20,"b":0.312,"r":0.296,"k":0.25,"g":0.06},
{"n":"24₂","x":30,"b":0.28,"r":0.265,"k":0.2,"g":0.08},
{"n":"24₂","x":40,"b":0.237,"r":0.224,"k":0.145,"g":0.09},
{"n":"24₂","x":50,"b":0.185,"r":0.174,"k":0.095,"g":0.08},
{"n":"24₂","x":60,"b":0.125,"r":0.115,"k":0.055,"g":0.055},
{"n":"24₂","x":70,"b":0.062,"r":0.054,"k":0.025,"g":0.025},
{"n":"24₂","x":80,"b":0.019,"r":0.015,"k":0.007,"g":0.006},
{"n":"24₂","x":90,"b":0,"r":0,"k":0,"g":0},
{"n":"26₂","x":-90,"b":0,"r":0,"k":0,"g":0},
{"n":"26₂","x":-80,"b":0.014,"r":0.012,"k":0,"g":0.004},
{"n":"26₂","x":-70,"b":0.045,"r":0.04,"k":0,"g":0.018},
{"n":"26₂","x":-60,"b":0.088,"r":0.08,"k":0.008,"g":0.04},
{"n":"26₂","x":-50,"b":0.14,"r":0.13,"k":0.028,"g":0.06},
{"n":"26₂","x":-40,"b":0.2,"r":0.186,"k":0.07,"g":0.07},
{"n":"26₂","x":-30,"b":0.26,"r":0.243,"k":0.14,"g":0.065},
{"n":"26₂","x":-20,"b":0.32,"r":0.3,"k":0.23,"g":0.05},
{"n":"26₂","x":-10,"b":0.375,"r":0.355,"k":0.32,"g":0.025},
{"n":"26₂","x":0,"b":0.4,"r":0.38,"k":0.36,"g":0},
{"n":"26₂","x":10,"b":0.375,"r":0.355,"k":0.32,"g":0.025},
{"n":"26₂","x":20,"b":0.32,"r":0.3,"k":0.23,"g":0.05},
{"n":"26₂","x":30,"b":0.26,"r":0.243,"k":0.14,"g":0.065},
{"n":"26₂","x":40,"b":0.2,"r":0.186,"k":0.07,"g":0.07},
{"n":"26₂","x":50,"b":0.14,"r":0.13,"k":0.028,"g":0.06},
{"n":"26₂","x":60,"b":0.088,"r":0.08,"k":0.008,"g":0.04},
{"n":"26₂","x":70,"b":0.045,"r":0.04,"k":0,"g":0.018},
{"n":"26₂","x":80,"b":0.014,"r":0.012,"k":0,"g":0.004},
{"n":"26₂","x":90,"b":0,"r":0,"k":0,"g":0},
{"n":"11₂","x":-90,"b":0.003,"r":0,"k":0,"g":0},
{"n":"11₂","x":-80,"b":0.02,"r":0.012,"k":0,"g":0.01},
{"n":"11₂","x":-70,"b":0.06,"r":0.045,"k":0,"g":0.06},
{"n":"11₂","x":-60,"b":0.12,"r":0.1,"k":0.005,"g":0.1},
{"n":"11₂","x":-50,"b":0.19,"r":0.17,"k":0.04,"g":0.1},
{"n":"11₂","x":-40,"b":0.26,"r":0.245,"k":0.13,"g":0.06},
{"n":"11₂","x":-30,"b":0.28,"r":0.27,"k":0.23,"g":0.01},
{"n":"11₂","x":-20,"b":0.25,"r":0.245,"k":0.25,"g":0.03},
{"n":"11₂","x":-10,"b":0.21,"r":0.195,"k":0.15,"g":0.07},
{"n":"11₂","x":0,"b":0.19,"r":0.17,"k":0.02,"g":0.09},
{"n":"11₂","x":10,"b":0.22,"r":0.2,"k":0.16,"g":0.07},
{"n":"11₂","x":20,"b":0.27,"r":0.25,"k":0.26,"g":0.03},
{"n":"11₂","x":30,"b":0.275,"r":0.26,"k":0.22,"g":0.01},
{"n":"11₂","x":40,"b":0.23,"r":0.215,"k":0.12,"g":0.06},
{"n":"11₂","x":50,"b":0.165,"r":0.15,"k":0.035,"g":0.1},
{"n":"11₂","x":60,"b":0.1,"r":0.085,"k":0.005,"g":0.1},
{"n":"11₂","x":70,"b":0.05,"r":0.04,"k":0,"g":0.06},
{"n":"11₂","x":80,"b":0.015,"r":0.01,"k":0,"g":0.01},
{"n":"11₂","x":90,"b":0,"r":0,"k":0,"g":0},
{"n":"13₂","x":-90,"b":0,"r":0,"k":0,"g":0},
{"n":"13₂","x":-80,"b":0.04,"r":0.018,"k":0,"g":0.01},
{"n":"13₂","x":-70,"b":0.14,"r":0.065,"k":0,"g":0.04},
{"n":"13₂","x":-60,"b":0.2,"r":0.125,"k":0.021,"g":0.08},
{"n":"13₂","x":-50,"b":0.215,"r":0.175,"k":0.043,"g":0.11},
{"n":"13₂","x":-40,"b":0.22,"r":0.198,"k":0.064,"g":0.12},
{"n":"13₂","x":-30,"b":0.22,"r":0.2,"k":0.086,"g":0.105},
{"n":"13₂","x":-20,"b":0.225,"r":0.185,"k":0.107,"g":0.07},
{"n":"13₂","x":-10,"b":0.24,"r":0.165,"k":0.129,"g":0.03},
{"n":"13₂","x":0,"b":0.25,"r":0.155,"k":0.15,"g":0},
{"n":"13₂","x":10,"b":0.24,"r":0.165,"k":0.129,"g":0.03},
{"n":"13₂","x":20,"b":0.225,"r":0.185,"k":0.107,"g":0.07},
{"n":"13₂","x":30,"b":0.22,"r":0.2,"k":0.086,"g":0.105},
{"n":"13₂","x":40,"b":0.22,"r":0.198,"k":0.064,"g":0.12},
{"n":"13₂","x":50,"b":0.215,"r":0.175,"k":0.043,"g":0.11},
{"n":"13₂","x":60,"b":0.2,"r":0.125,"k":0.021,"g":0.08},
{"n":"13₂","x":70,"b":0.14,"r":0.065,"k":0,"g":0.04},
{"n":"13₂","x":80,"b":0.04,"r":0.018,"k":0,"g":0.01},
{"n":"13₂","x":90,"b":0,"r":0,"k":0,"g":0},
{"n":"15₂","x":-90,"b":0,"r":0,"k":0,"g":0},
{"n":"15₂","x":-80,"b":0.02,"r":0.015,"k":0.003,"g":0.005},
{"n":"15₂","x":-70,"b":0.09,"r":0.07,"k":0.015,"g":0.03},
{"n":"15₂","x":-60,"b":0.175,"r":0.145,"k":0.035,"g":0.065},
{"n":"15₂","x":-50,"b":0.23,"r":0.205,"k":0.06,"g":0.1},
{"n":"15₂","x":-40,"b":0.245,"r":0.235,"k":0.09,"g":0.12},
{"n":"15₂","x":-30,"b":0.25,"r":0.235,"k":0.12,"g":0.11},
{"n":"15₂","x":-20,"b":0.25,"r":0.215,"k":0.15,"g":0.08},
{"n":"15₂","x":-10,"b":0.25,"r":0.19,"k":0.17,"g":0.035},
{"n":"15₂","x":0,"b":0.25,"r":0.18,"k":0.18,"g":0},
{"n":"15₂","x":10,"b":0.25,"r":0.19,"k":0.17,"g":0.035},
{"n":"15₂","x":20,"b":0.25,"r":0.215,"k":0.15,"g":0.08},
{"n":"15₂","x":30,"b":0.25,"r":0.235,"k":0.12,"g":0.11},
{"n":"15₂","x":40,"b":0.245,"r":0.235,"k":0.09,"g":0.12},
{"n":"15₂","x":50,"b":0.23,"r":0.205,"k":0.06,"g":0.1},
{"n":"15₂","x":60,"b":0.175,"r":0.145,"k":0.035,"g":0.065},
{"n":"15₂","x":70,"b":0.09,"r":0.07,"k":0.015,"g":0.03},
{"n":"15₂","x":80,"b":0.02,"r":0.015,"k":0.003,"g":0.005},
{"n":"15₂","x":90,"b":0,"r":0,"k":0,"g":0},
{"n":"17₂","x":-90,"b":0,"r":0,"k":0,"g":0},
{"n":"17₂","x":-80,"b":0.025,"r":0.015,"k":0.004,"g":0.005},
{"n":"17₂","x":-70,"b":0.09,"r":0.07,"k":0.017,"g":0.028},
{"n":"17₂","x":-60,"b":0.17,"r":0.145,"k":0.04,"g":0.06},
{"n":"17₂","x":-50,"b":0.225,"r":0.205,"k":0.07,"g":0.095},
{"n":"17₂","x":-40,"b":0.25,"r":0.235,"k":0.105,"g":0.11},
{"n":"17₂","x":-30,"b":0.258,"r":0.24,"k":0.14,"g":0.1},
{"n":"17₂","x":-20,"b":0.26,"r":0.228,"k":0.175,"g":0.07},
{"n":"17₂","x":-10,"b":0.26,"r":0.208,"k":0.2,"g":0.03},
{"n":"17₂","x":0,"b":0.26,"r":0.2,"k":0.21,"g":0},
{"n":"17₂","x":10,"b":0.26,"r":0.208,"k":0.2,"g":0.03},
{"n":"17₂","x":20,"b":0.26,"r":0.228,"k":0.175,"g":0.07},
{"n":"17₂","x":30,"b":0.258,"r":0.24,"k":0.14,"g":0.1},
{"n":"17₂","x":40,"b":0.25,"r":0.235,"k":0.105,"g":0.11},
{"n":"17₂","x":50,"b":0.225,"r":0.205,"k":0.07,"g":0.095},
{"n":"17₂","x":60,"b":0.17,"r":0.145,"k":0.04,"g":0.06},
{"n":"17₂","x":70,"b":0.09,"r":0.07,"k":0.017,"g":0.028},
{"n":"17₂","x":80,"b":0.025,"r":0.015,"k":0.004,"g":0.005},
{"n":"17₂","x":90,"b":0,"r":0,"k":0,"g":0},
{"n":"19₂","x":-90,"b":0,"r":0,"k":0,"g":0},
{"n":"19₂","x":-80,"b":0.025,"r":0.015,"k":0.004,"g":0.005},
{"n":"19₂","x":-70,"b":0.09,"r":0.07,"k":0.018,"g":0.025},
{"n":"19₂","x":-60,"b":0.168,"r":0.145,"k":0.043,"g":0.055},
{"n":"19₂","x":-50,"b":0.222,"r":0.205,"k":0.075,"g":0.085},
{"n":"19₂","x":-40,"b":0.25,"r":0.235,"k":0.112,"g":0.1},
{"n":"19₂","x":-30,"b":0.263,"r":0.245,"k":0.15,"g":0.09},
{"n":"19₂","x":-20,"b":0.268,"r":0.24,"k":0.185,"g":0.065},
{"n":"19₂","x":-10,"b":0.27,"r":0.226,"k":0.21,"g":0.03},
{"n":"19₂","x":0,"b":0.27,"r":0.22,"k":0.22,"g":0},
{"n":"19₂","x":10,"b":0.27,"r":0.226,"k":0.21,"g":0.03},
{"n":"19₂","x":20,"b":0.268,"r":0.24,"k":0.185,"g":0.065},
{"n":"19₂","x":30,"b":0.263,"r":0.245,"k":0.15,"g":0.09},
{"n":"19₂","x":40,"b":0.25,"r":0.235,"k":0.112,"g":0.1},
{"n":"19₂","x":50,"b":0.222,"r":0.205,"k":0.075,"g":0.085},
{"n":"19₂","x":60,"b":0.168,"r":0.145,"k":0.043,"g":0.055},
{"n":"19₂","x":70,"b":0.09,"r":0.07,"k":0.018,"g":0.025},
{"n":"19₂","x":80,"b":0.025,"r":0.015,"k":0.004,"g":0.005},
{"n":"19₂","x":90,"b":0,"r":0,"k":0,"g":0},
{"n":"21₂","x":-90,"b":0,"r":0,"k":0,"g":0},
{"n":"21₂","x":-80,"b":0.025,"r":0.015,"k":0.004,"g":0.005},
{"n":"21₂","x":-70,"b":0.088,"r":0.068,"k":0.018,"g":0.025},
{"n":"21₂","x":-60,"b":0.163,"r":0.14,"k":0.043,"g":0.055},
{"n":"21₂","x":-50,"b":0.215,"r":0.198,"k":0.075,"g":0.085},
{"n":"21₂","x":-40,"b":0.245,"r":0.228,"k":0.112,"g":0.1},
{"n":"21₂","x":-30,"b":0.26,"r":0.24,"k":0.15,"g":0.09},
{"n":"21₂","x":-20,"b":0.268,"r":0.245,"k":0.185,"g":0.065},
{"n":"21₂","x":-10,"b":0.27,"r":0.24,"k":0.21,"g":0.03},
{"n":"21₂","x":0,"b":0.27,"r":0.235,"k":0.22,"g":0},
{"n":"21₂","x":10,"b":0.27,"r":0.24,"k":0.21,"g":0.03},
{"n":"21₂","x":20,"b":0.268,"r":0.245,"k":0.185,"g":0.065},
{"n":"21₂","x":30,"b":0.26,"r":0.24,"k":0.15,"g":0.09},
{"n":"21₂","x":40,"b":0.245,"r":0.228,"k":0.112,"g":0.1},
{"n":"21₂","x":50,"b":0.215,"r":0.198,"k":0.075,"g":0.085},
{"n":"21₂","x":60,"b":0.163,"r":0.14,"k":0.043,"g":0.055},
{"n":"21₂","x":70,"b":0.088,"r":0.068,"k":0.018,"g":0.025},
{"n":"21₂","x":80,"b":0.025,"r":0.015,"k":0.004,"g":0.005},
{"n":"21₂","x":90,"b":0,"r":0,"k":0,"g":0},
{"n":"23₂","x":-90,"b":0,"r":0,"k":0,"g":0},
{"n":"23₂","x":-80,"b":0.025,"r":0.015,"k":0.004,"g":0.005},
{"n":"23₂","x":-70,"b":0.085,"r":0.065,"k":0.019,"g":0.025},
{"n":"23₂","x":-60,"b":0.155,"r":0.135,"k":0.044,"g":0.055},
{"n":"23₂","x":-50,"b":0.205,"r":0.19,"k":0.077,"g":0.085},
{"n":"23₂","x":-40,"b":0.235,"r":0.22,"k":0.116,"g":0.1},
{"n":"23₂","x":-30,"b":0.255,"r":0.238,"k":0.156,"g":0.09},
{"n":"23₂","x":-20,"b":0.268,"r":0.248,"k":0.193,"g":0.065},
{"n":"23₂","x":-10,"b":0.273,"r":0.25,"k":0.22,"g":0.03},
{"n":"23₂","x":0,"b":0.275,"r":0.25,"k":0.23,"g":0},
{"n":"23₂","x":10,"b":0.273,"r":0.25,"k":0.22,"g":0.03},
{"n":"23₂","x":20,"b":0.268,"r":0.248,"k":0.193,"g":0.065},
{"n":"23₂","x":30,"b":0.255,"r":0.238,"k":0.156,"g":0.09},
{"n":"23₂","x":40,"b":0.235,"r":0.22,"k":0.116,"g":0.1},
{"n":"23₂","x":50,"b":0.205,"r":0.19,"k":0.077,"g":0.085},
{"n":"23₂","x":60,"b":0.155,"r":0.135,"k":0.044,"g":0.055},
{"n":"23₂","x":70,"b":0.085,"r":0.065,"k":0.019,"g":0.025},
{"n":"23₂","x":80,"b":0.025,"r":0.015,"k":0.004,"g":0.005},
{"n":"23₂","x":90,"b":0,"r":0,"k":0,"g":0},
{"n":"25₂","x":-90,"b":0,"r":0,"k":0,"g":0},
{"n":"25₂","x":-80,"b":0.023,"r":0.014,"k":0.004,"g":0.005},
{"n":"25₂","x":-70,"b":0.078,"r":0.06,"k":0.018,"g":0.025},
{"n":"25₂","x":-60,"b":0.14,"r":0.12,"k":0.043,"g":0.055},
{"n":"25₂","x":-50,"b":0.19,"r":0.17,"k":0.075,"g":0.085},
{"n":"25₂","x":-40,"b":0.225,"r":0.205,"k":0.112,"g":0.1},
{"n":"25₂","x":-30,"b":0.25,"r":0.23,"k":0.15,"g":0.09},
{"n":"25₂","x":-20,"b":0.268,"r":0.245,"k":0.185,"g":0.065},
{"n":"25₂","x":-10,"b":0.277,"r":0.25,"k":0.21,"g":0.03},
{"n":"25₂","x":0,"b":0.28,"r":0.25,"k":0.22,"g":0},
{"n":"25₂","x":10,"b":0.277,"r":0.25,"k":0.21,"g":0.03},
{"n":"25₂","x":20,"b":0.268,"r":0.245,"k":0.185,"g":0.065},
{"n":"25₂","x":30,"b":0.25,"r":0.23,"k":0.15,"g":0.09},
{"n":"25₂","x":40,"b":0.225,"r":0.205,"k":0.112,"g":0.1},
{"n":"25₂","x":50,"b":0.19,"r":0.17,"k":0.075,"g":0.085},
{"n":"25₂","x":60,"b":0.14,"r":0.12,"k":0.043,"g":0.055},
{"n":"25₂","x":70,"b":0.078,"r":0.06,"k":0.018,"g":0.025},
{"n":"25₂","x":80,"b":0.023,"r":0.014,"k":0.004,"g":0.005},
{"n":"25₂","x":90,"b":0,"r":0,"k":0,"g":0},
{"n":"27₂","x":-90,"b":0,"r":0,"k":0,"g":0},
{"n":"27₂","x":-80,"b":0.023,"r":0.014,"k":0.004,"g":0.005},
{"n":"27₂","x":-70,"b":0.078,"r":0.058,"k":0.018,"g":0.025},
{"n":"27₂","x":-60,"b":0.14,"r":0.118,"k":0.043,"g":0.055},
{"n":"27₂","x":-50,"b":0.19,"r":0.167,"k":0.075,"g":0.085},
{"n":"27₂","x":-40,"b":0.225,"r":0.2,"k":0.112,"g":0.1},
{"n":"27₂","x":-30,"b":0.25,"r":0.226,"k":0.15,"g":0.09},
{"n":"27₂","x":-20,"b":0.268,"r":0.24,"k":0.185,"g":0.065},
{"n":"27₂","x":-10,"b":0.277,"r":0.245,"k":0.21,"g":0.03},
{"n":"27₂","x":0,"b":0.28,"r":0.245,"k":0.22,"g":0},
{"n":"27₂","x":10,"b":0.277,"r":0.245,"k":0.21,"g":0.03},
{"n":"27₂","x":20,"b":0.268,"r":0.24,"k":0.185,"g":0.065},
{"n":"27₂","x":30,"b":0.25,"r":0.226,"k":0.15,"g":0.09},
{"n":"27₂","x":40,"b":0.225,"r":0.2,"k":0.112,"g":0.1},
{"n":"27₂","x":50,"b":0.19,"r":0.167,"k":0.075,"g":0.085},
{"n":"27₂","x":60,"b":0.14,"r":0.118,"k":0.043,"g":0.055},
{"n":"27₂","x":70,"b":0.078,"r":0.058,"k":0.018,"g":0.025},
{"n":"27₂","x":80,"b":0.023,"r":0.014,"k":0.004,"g":0.005},
{"n":"27₂","x":90,"b":0,"r":0,"k":0,"g":0}
]},
"columns":9,
"spacing":{"row":4,"column":4},
"facet":{"field":"n","type":"nominal","title":null,
  "header":{"labels":false,"title":null,"labelExpr":"''","labelFontSize":0,"labelColor":"transparent","labelPadding":0,"titlePadding":0},
  "sort":["10₁","12₁","14₁","16₁","18₁","20₁","22₁","24₁","26₁","11₁","13₁","15₁","17₁","19₁","21₁","23₁","25₁","27₁","10₂","12₂","14₂","16₂","18₂","20₂","22₂","24₂","26₂","11₂","13₂","15₂","17₂","19₂","21₂","23₂","25₂","27₂"]},
"spec":{
  "width":75,"height":90,
  "encoding":{
    "x":{"field":"x","type":"quantitative","title":"ϕⱼ (deg)",
      "scale":{"domain":[-90,90],"nice":false,"zero":false},
      "axis":{"values":[-90,-60,-30,0,30,60,90],"labelOverlap":false,"labelFlush":false,"labelExpr":"datum.value == -90 || datum.value == 0 ? format(datum.value, 'd') : ''"}}
  },
  "layer":[
    {"transform":[{"filter":"datum.x == 0"}],"mark":{"type":"rule","color":"#c4c4c4","strokeWidth":1},"encoding":{}},
    {"mark":{"type":"line","color":"#0000ff","strokeWidth":3,"interpolate":"monotone"},
     "encoding":{"y":{"field":"b","type":"quantitative","title":"Probability","scale":{"domain":[0,0.8],"nice":false},
       "axis":{"values":[0,0.1,0.2,0.3,0.4,0.5,0.6,0.7,0.8],"labels":false,"titlePadding":18}}}},
    {"mark":{"type":"line","color":"#ff0000","strokeWidth":2.5,"strokeDash":[8,4],"interpolate":"monotone"},
     "encoding":{"y":{"field":"r","type":"quantitative","title":"Probability",
       "axis":{"values":[0,0.1,0.2,0.3,0.4,0.5,0.6,0.7,0.8],"labels":false,"titlePadding":18}}}},
    {"mark":{"type":"line","color":"#000000","strokeWidth":1.4,"strokeDash":[5,2,1.5,2],"interpolate":"monotone"},
     "encoding":{"y":{"field":"k","type":"quantitative","title":"Probability",
       "axis":{"values":[0,0.1,0.2,0.3,0.4,0.5,0.6,0.7,0.8],"labels":false,"titlePadding":18}}}},
    {"mark":{"type":"line","color":"#8c8c8c","strokeWidth":1.4,"strokeDash":[1.5,1.5],"interpolate":"monotone"},
     "encoding":{"y":{"field":"g","type":"quantitative","title":"Probability",
       "axis":{"values":[0,0.1,0.2,0.3,0.4,0.5,0.6,0.7,0.8],"labels":false,"titlePadding":18}}}},
    {"transform":[{"filter":"datum.x == -90"}],
     "mark":{"type":"text","align":"left","baseline":"alphabetic","font":"Liberation Sans","fontSize":12.5,"fontWeight":"bold","color":"#000"},
     "encoding":{"x":{"datum":-66},"y":{"datum":0.585},"text":{"field":"n","type":"nominal"}}},
    {"transform":[{"filter":"datum.x == -90 && indexof(['10₁','11₁','10₂','11₂'], datum.n) >= 0"}],
     "mark":{"type":"text","align":"right","baseline":"middle","dx":-3,"dy":-1,"font":"Liberation Sans","fontSize":11.5,"color":"#000"},
     "encoding":{"x":{"datum":-90},"y":{"datum":0},"text":{"value":"0.0"}}},
    {"transform":[{"filter":"datum.x == -90 && indexof(['10₁','11₁','10₂','11₂'], datum.n) >= 0"}],
     "mark":{"type":"text","align":"right","baseline":"middle","dx":-3,"font":"Liberation Sans","fontSize":11.5,"color":"#000"},
     "encoding":{"x":{"datum":-90},"y":{"datum":0.2},"text":{"value":"0.2"}}},
    {"transform":[{"filter":"datum.x == -90 && indexof(['10₁','11₁','10₂','11₂'], datum.n) >= 0"}],
     "mark":{"type":"text","align":"right","baseline":"middle","dx":-3,"font":"Liberation Sans","fontSize":11.5,"color":"#000"},
     "encoding":{"x":{"datum":-90},"y":{"datum":0.4},"text":{"value":"0.4"}}},
    {"transform":[{"filter":"datum.x == -90 && indexof(['10₁','11₁','10₂','11₂'], datum.n) >= 0"}],
     "mark":{"type":"text","align":"right","baseline":"middle","dx":-3,"font":"Liberation Sans","fontSize":11.5,"color":"#000"},
     "encoding":{"x":{"datum":-90},"y":{"datum":0.6},"text":{"value":"0.6"}}},
    {"transform":[{"filter":"datum.x == -90 && indexof(['10₁','11₁','10₂','11₂'], datum.n) >= 0"}],
     "mark":{"type":"text","align":"right","baseline":"middle","dx":-3,"dy":1,"font":"Liberation Sans","fontSize":11.5,"color":"#000"},
     "encoding":{"x":{"datum":-90},"y":{"datum":0.8},"text":{"value":"0.8"}}},
    {"transform":[{"filter":"datum.x == 90 && datum.n == '27₂'"}],
     "mark":{"type":"text","align":"center","baseline":"top","dx":-3,"dy":3,"font":"Liberation Sans","fontSize":12,"color":"#000"},
     "encoding":{"x":{"field":"x","type":"quantitative"},"y":{"datum":0},"text":{"field":"x","type":"quantitative"}}}
  ]
},
"config":{
  "view":{"stroke":"#1e1e1e","strokeWidth":1.5},
  "font":"Liberation Sans",
  "header":{"labels":false,"title":null,"labelFontSize":0,"labelPadding":0,"titlePadding":0},
  "axis":{"grid":false,"domain":false,"tickColor":"#000","tickWidth":1,"tickSize":-4,"labelPadding":6,
    "labelOverlap":false,"labelFlush":false,
    "labelFont":"Liberation Sans","labelFontSize":12,"labelColor":"#000",
    "titleFont":"Liberation Sans","titleFontSize":13,"titleFontWeight":"normal","titleColor":"#000"},
  "axisY":{"titlePadding":18},
  "axisX":{"titlePadding":3}
}
}
